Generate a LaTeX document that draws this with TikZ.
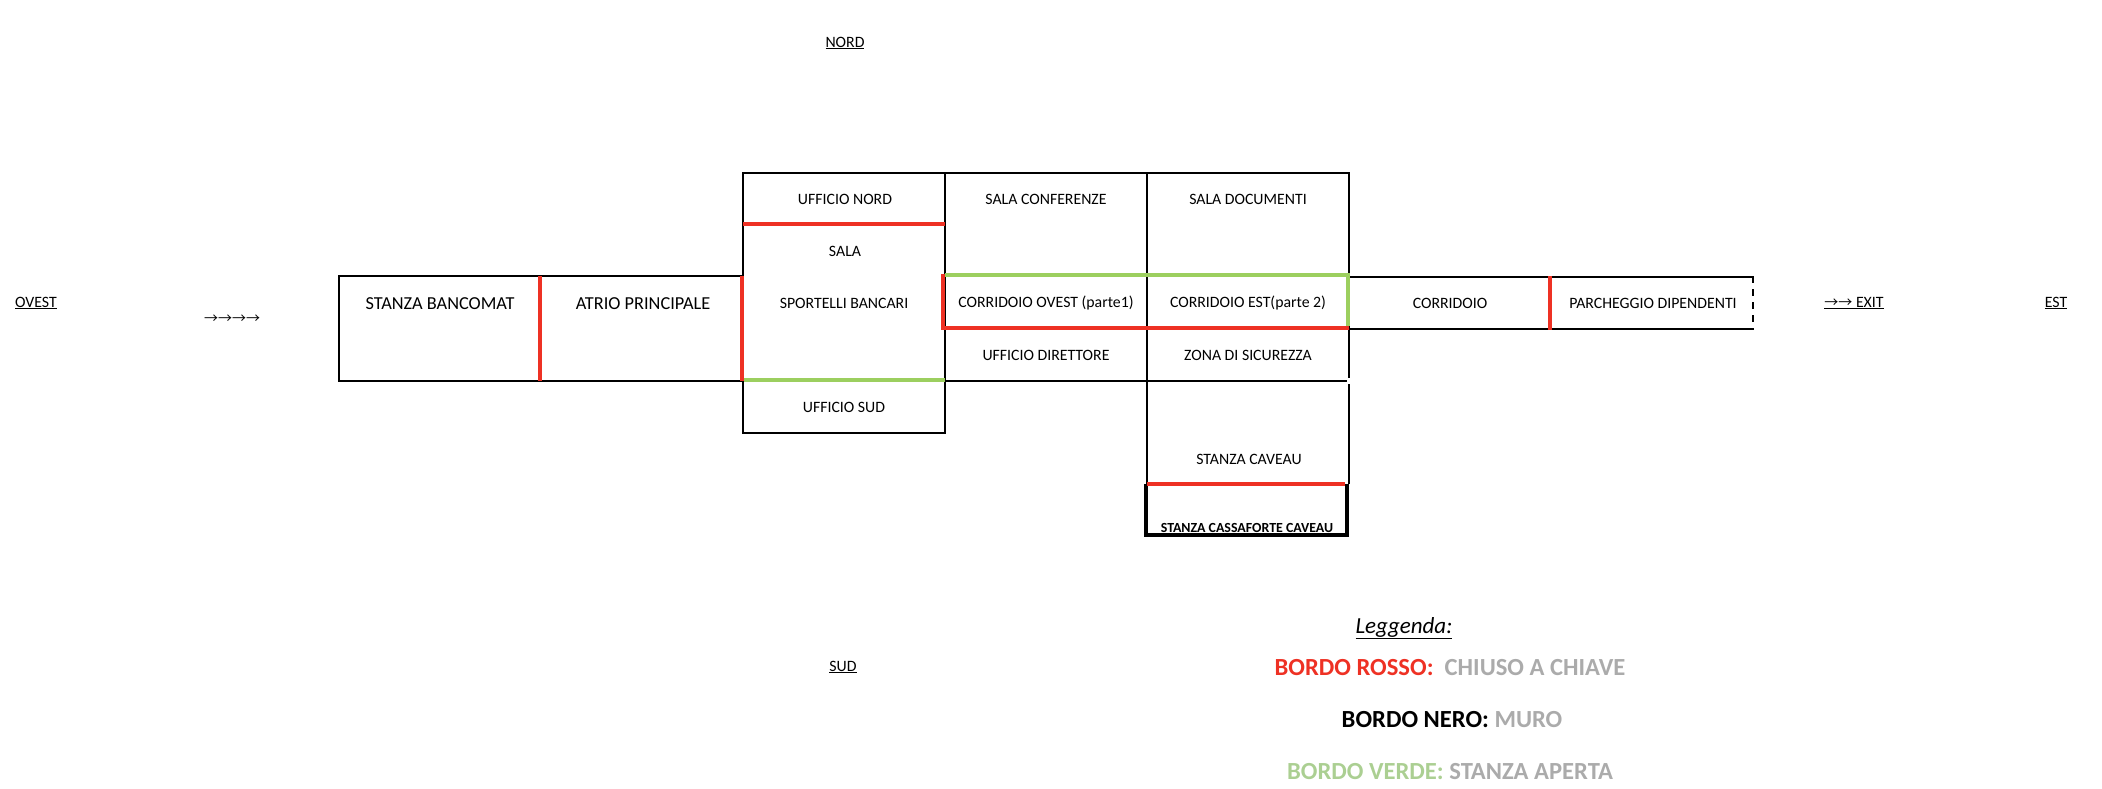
\documentclass[tikz,border=0pt]{standalone}
\usepackage{fontspec}
\setmainfont{Carlito}
\newfontfamily\arrowfont{Noto Sans CJK SC}
\definecolor{wallred}{HTML}{EE3124}
\definecolor{wallgreen}{HTML}{9CCF5F}
\definecolor{txtgreen}{HTML}{ABCF92}
\definecolor{txtgrey}{HTML}{ABABAB}
\newcommand{\fs}[1]{\fontsize{#1}{#1}\selectfont}
\tikzset{
  x=1pt,y=-1pt,
  wall/.style={draw=black,line width=2.7pt,line cap=rect},
  locked/.style={draw=wallred,line width=4.2pt},
  open/.style={draw=wallgreen,line width=4.2pt},
  vault/.style={draw=black,line width=4.6pt,line join=miter},
  room/.style={inner sep=0pt,font=\fs{15.8}},
  bigroom/.style={inner sep=0pt,font=\fs{18.3}},
  compass/.style={inner sep=0pt,font=\fs{15.8}},
  legend/.style={inner sep=0pt,font=\fs{24.6}\bfseries}
}
\begin{document}
\begin{tikzpicture}
\useasboundingbox (0,0) rectangle (2102,788);
% black walls
\draw[wall] (743,276) -- (339,276) -- (339,381) -- (743,381);
\draw[wall] (743,381) -- (743,173) -- (1349,173) -- (1349,276);
\draw[wall] (743,381) -- (743,433) -- (945,433) -- (945,173);
\draw[wall] (1147,173) -- (1147,484);
\draw[wall,line cap=butt] (945,381) -- (1347,381);
\draw[wall,line cap=butt] (1349,276) -- (1349,378);
\draw[wall,line cap=butt] (1349,384) -- (1349,484);
\draw[wall,line cap=butt] (1349,277) -- (1753,277);
\draw[wall,line cap=butt] (1349,329) -- (1753,329);
\draw[draw=black,line width=2.7pt,dash pattern=on 7pt off 6pt] (1753,276) -- (1753,330);
% strong room
\draw[vault] (1146,484) -- (1146,535) -- (1347,535) -- (1347,484);
% locked doors
\draw[locked] (540,276) -- (540,381);
\draw[locked] (742,276) -- (742,381);
\draw[locked] (743,224) -- (945,224);
\draw[locked] (943,328) -- (1349,328);
\draw[locked] (943,274) -- (943,330);
\draw[locked] (1147,484) -- (1345,484);
\draw[locked] (1550,276) -- (1550,330);
% open doors
\draw[open] (744,380) -- (945,380);
\draw[open] (945,275) -- (1349,275);
\draw[open] (1348,273) -- (1348,326);
% rooms
\node[bigroom] (bancomat) at (440,304) {STANZA BANCOMAT};
\node[bigroom] (atrio) at (643,304) {ATRIO PRINCIPALE};
\node[room] (nord) at (845,199) {UFFICIO NORD};
\node[room] (sala) at (845,251) {SALA};
\node[room] (sportelli) at (844,303) {SPORTELLI BANCARI};
\node[room] (sud) at (844,407) {UFFICIO SUD};
\node[room] (conf) at (1046,199) {SALA CONFERENZE};
\node[room] (doc) at (1248,199) {SALA DOCUMENTI};
\node[room] (ovestc) at (1046,303) {CORRIDOIO OVEST (parte1)};
\node[room] (estc) at (1248,303) {CORRIDOIO EST(parte 2)};
\node[room] (dir) at (1046,355) {UFFICIO DIRETTORE};
\node[room] (zona) at (1248,355) {ZONA DI SICUREZZA};
\node[room] (caveau) at (1249,459) {STANZA CAVEAU};
\node[room,font=\fs{13.9}\bfseries] (cassa) at (1247,528) {STANZA CASSAFORTE CAVEAU};
\node[room] (corr) at (1450,303) {CORRIDOIO};
\node[room] (park) at (1653,303) {PARCHEGGIO DIPENDENTI};
% compass
\node[compass] (n) at (845,43) {\underline{NORD}};
\node[compass] (s) at (843,667) {\underline{SUD}};
\node[compass] (o) at (36,303) {\underline{OVEST}};
\node[compass] (e) at (2056,303) {\underline{EST}};
\node[compass] (arr) at (232,319) {\arrowfont\fs{14}→→→→};
\node[compass] (exit) at (1854,303) {\underline{{\arrowfont\fs{14}→→} EXIT}};
% legend
\node[inner sep=0pt,font=\fs{23}\itshape] (leg) at (1404,628) {\underline{Leggenda:}};
\node[legend] (l1) at (1450,668) {\textcolor{wallred}{BORDO ROSSO:}\ \ \textcolor{txtgrey}{CHIUSO A CHIAVE}};
\node[legend] (l2) at (1452,720) {BORDO NERO: \textcolor{txtgrey}{MURO}};
\node[legend] (l3) at (1450,772) {\textcolor{txtgreen}{BORDO VERDE:} \textcolor{txtgrey}{STANZA APERTA}};
\end{tikzpicture}
\end{document}
